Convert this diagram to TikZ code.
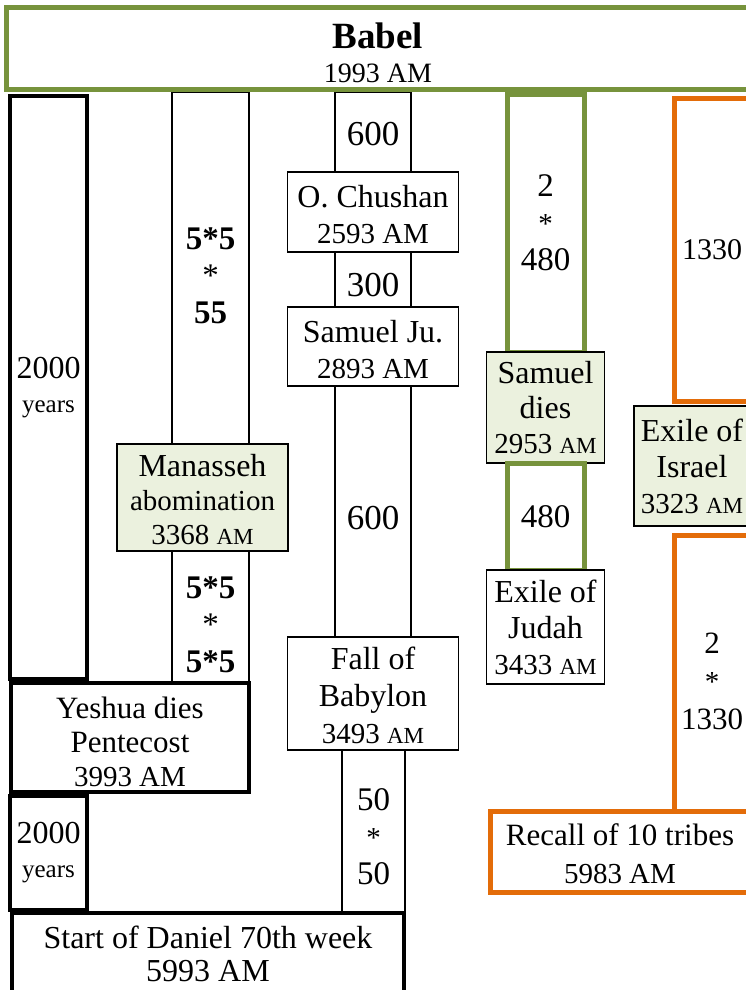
\documentclass[tikz,border=0pt]{standalone}
\usepackage{fontspec}
\setmainfont{Liberation Serif}
\usetikzlibrary{positioning}
\definecolor{olv}{HTML}{77933C}
\definecolor{org}{HTML}{E36C09}
\definecolor{pale}{HTML}{EBF1DE}
\newcommand{\sam}{{\fontsize{23}{23}\selectfont AM}}
\newcommand{\yrs}{{\fontsize{25}{25}\selectfont years}}
\newcommand{\dt}[1]{{\fontsize{29}{29}\selectfont #1}}
\newcommand{\pad}[1]{\rule{0pt}{#1pt}}
\tikzset{col/.style={draw,line width=1.2pt,fill=white,inner sep=0pt,outer sep=0pt,align=center,font=\fontsize{32}{36}\selectfont},
         evt/.style={col,fill=pale},
         hvy/.style={col,line width=4pt},
         gcol/.style={col,draw=olv,line width=5pt},
         ocol/.style={col,draw=org,line width=5pt},
         sz/.style 2 args={minimum width=#1pt,minimum height=#2pt}}

\begin{document}
\begin{tikzpicture}[x=1pt,y=-1pt]
\useasboundingbox (0,0) rectangle (745,990);
% left: 2000 + 2000 years
\node[hvy,sz={77}{583},anchor=north,font=\fontsize{32}{34}\selectfont] (yrsA) at (48.5,96) {2000\\\yrs};
\node[hvy,sz={77}{114},anchor=north,font=\fontsize{32}{34}\selectfont] (yrsB) at (48.5,796) {2000\\\yrs};
% 5*5 column
\node[col,sz={77}{352},anchor=north,font=\fontsize{33}{37}\selectfont\bfseries] (colA1) at (210.5,92) {\pad{37}5*5\\{\mdseries *}\\55};
\node[evt,sz={171}{107},below=0pt of colA1,xshift=-8pt,font=\fontsize{32}{34}\selectfont] (manasseh) {\pad{27}Manasseh\\{\fontsize{29}{29}\selectfont abomination}\\\dt{3368 \sam}};
\node[col,sz={77}{132},below=0pt of manasseh,xshift=8pt,font=\fontsize{33}{37}\selectfont\bfseries] (colA2) {\pad{37}5*5\\{\mdseries *}\\5*5};
\node[hvy,sz={238}{109},below=0pt of colA2,xshift=-80.5pt,font=\fontsize{31}{34}\selectfont] (yeshua) {\pad{30}Yeshua dies\\Pentecost\\\dt{3993 AM}};
\node[hvy,sz={392}{82},anchor=north,font=\fontsize{32}{33}\selectfont] (daniel) at (208,913) {Start of Daniel 70th week\\5993 AM};
% middle column
\node[col,sz={76}{80},anchor=north,font=\fontsize{35}{35}\selectfont] (c600a) at (373,92) {\pad{28}600};
\node[col,sz={171}{80},below=0pt of c600a] (chushan) {\pad{28}O. Chushan\\\dt{2593 AM}};
\node[col,sz={76}{55},below=0pt of chushan,font=\fontsize{35}{35}\selectfont] (c300) {\pad{34}300};
\node[col,sz={171}{79},below=0pt of c300] (samju) {\pad{28}Samuel Ju.\\\dt{2893 AM}};
\node[col,sz={76}{251},below=0pt of samju,font=\fontsize{35}{35}\selectfont] (c600b) {\pad{36}600};
\node[col,sz={171}{113},below=0pt of c600b,font=\fontsize{32}{37}\selectfont] (babylon) {\pad{26}Fall of\\Babylon\\\dt{3493 \sam}};
\node[col,sz={63}{162},below=0pt of babylon,xshift=0.5pt,font=\fontsize{33}{37}\selectfont] (c50) {\pad{33}50\\{\fontsize{29}{29}\selectfont *}\\50};
% green column
\node[gcol,sz={77}{258},anchor=north,font=\fontsize{33}{37}\selectfont] (g960) at (545.5,94) {2\\{\fontsize{29}{29}\selectfont *}\\480};
\node[evt,sz={118}{111},below=0pt of g960,font=\fontsize{32}{35}\selectfont] (samdies) {Samuel\\dies\\\dt{2953 \sam}};
\node[gcol,sz={77}{107},below=0pt of samdies,font=\fontsize{33}{35}\selectfont] (g480) {480};
\node[col,sz={118}{114},below=0pt of g480,font=\fontsize{32}{36}\selectfont] (judah) {Exile of\\Judah\\\dt{3433 \sam}};
% orange column
\node[ocol,sz={76}{303},anchor=north,font=\fontsize{30}{35}\selectfont] (o1330) at (712,98) {1330};
\node[evt,sz={116}{120},below=5pt of o1330,xshift=-20pt,font=\fontsize{32}{36}\selectfont] (israel) {Exile of\\Israel\\\dt{3323 \sam}};
\node[ocol,sz={76}{276},below=9pt of israel,xshift=20pt,font=\fontsize{31}{38}\selectfont] (o2660) {\pad{37}2\\{\fontsize{29}{29}\selectfont *}\\1330};
\node[ocol,sz={260}{81},below=0pt of o2660,xshift=-92pt,font=\fontsize{31}{38}\selectfont] (recall) {\pad{26}Recall of 10 tribes\\\dt{5983 AM}};
% top
\node[col,draw=olv,line width=5pt,sz={744}{81},anchor=north,font=\fontsize{28}{34}\selectfont] (babel) at (378,8) {{\fontsize{37}{37}\selectfont\bfseries\pad{34}Babel}\\1993 AM};
\end{tikzpicture}
\end{document}
